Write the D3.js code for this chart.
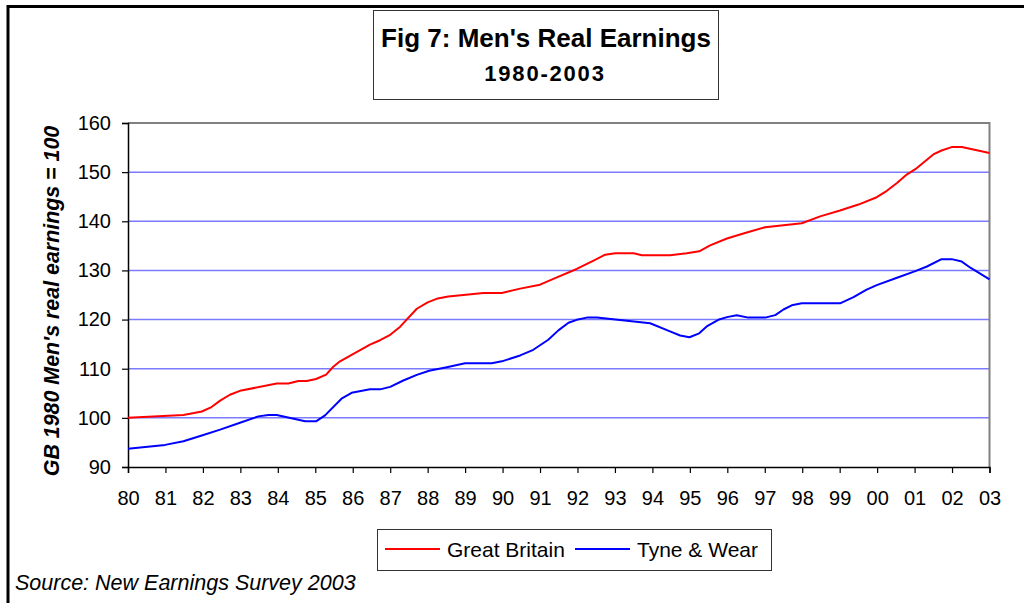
<!DOCTYPE html>
<html>
<head>
<meta charset="utf-8">
<script src="https://cdn.jsdelivr.net/npm/d3@7"></script>
<style>
  body { margin: 0; background: #fff; }
  svg { display: block; font-family: "Liberation Sans", Arial, sans-serif; }
</style>
</head>
<body>
<svg id="chart" width="1024" height="603"></svg>
<script>
// values: [year, index]
const greatBritain = [
  [1980.00, 100.0], [1981.48, 100.6], [1981.97, 101.3], [1982.23, 102.2], [1982.46, 103.5],
  [1982.72, 104.7], [1982.99, 105.5], [1983.97, 107.0], [1984.28, 107.0], [1984.55, 107.5],
  [1984.77, 107.5], [1985.02, 107.9], [1985.29, 108.8], [1985.48, 110.4], [1985.66, 111.5],
  [1986.46, 114.9], [1986.73, 115.8], [1987.00, 116.9], [1987.26, 118.5], [1987.71, 122.2],
  [1988.00, 123.5], [1988.27, 124.3], [1988.55, 124.7], [1989.49, 125.4], [1989.98, 125.4],
  [1990.47, 126.3], [1991.00, 127.1], [1991.45, 128.6], [1991.98, 130.3], [1992.43, 132.0],
  [1992.74, 133.2], [1993.01, 133.5], [1993.50, 133.5], [1993.72, 133.1], [1994.47, 133.1],
  [1994.92, 133.5], [1995.25, 133.9], [1995.54, 135.1], [1995.99, 136.5], [1996.43, 137.5],
  [1997.01, 138.8], [1997.99, 139.6], [1998.48, 141.0], [1999.01, 142.2], [1999.50, 143.4],
  [1999.99, 144.9], [2000.26, 146.2], [2000.53, 147.8], [2000.79, 149.5], [2001.02, 150.6],
  [2001.50, 153.6], [2001.72, 154.4], [2001.99, 155.1], [2002.26, 155.1], [2003.00, 153.9]
];
const tyneWear = [
  [1980.00, 93.7], [1980.99, 94.5], [1981.48, 95.25], [1981.97, 96.4], [1982.46, 97.6],
  [1982.99, 99.0], [1983.48, 100.3], [1983.75, 100.6], [1983.97, 100.6], [1984.73, 99.3],
  [1985.02, 99.3], [1985.26, 100.5], [1985.70, 103.9], [1985.97, 105.1], [1986.46, 105.8],
  [1986.73, 105.8], [1987.00, 106.3], [1987.35, 107.6], [1987.71, 108.75], [1988.04, 109.6],
  [1988.51, 110.3], [1989.00, 111.1], [1989.71, 111.1], [1989.98, 111.5], [1990.47, 112.7],
  [1990.82, 113.85], [1991.22, 115.9], [1991.49, 117.8], [1991.76, 119.35], [1991.98, 119.95],
  [1992.25, 120.4], [1992.52, 120.4], [1993.01, 120.0], [1993.94, 119.25], [1994.47, 117.6],
  [1994.74, 116.75], [1994.99, 116.4], [1995.25, 117.2], [1995.45, 118.6], [1995.76, 119.95],
  [1995.99, 120.5], [1996.25, 120.9], [1996.56, 120.4], [1997.01, 120.4], [1997.28, 120.9],
  [1997.50, 122.05], [1997.72, 122.9], [1997.99, 123.3], [1999.01, 123.3], [1999.37, 124.55],
  [1999.72, 126.1], [1999.99, 127.0], [2000.53, 128.5], [2001.02, 129.85], [2001.33, 130.8],
  [2001.72, 132.3], [2001.99, 132.3], [2002.26, 131.8], [2002.49, 130.55], [2003.00, 128.2]
];
const xTicks = d3.range(1980, 2004);
const yTicks = [90, 100, 110, 120, 130, 140, 150, 160];
const seriesNames = ["Great Britain", "Tyne & Wear"];
const seriesColors = ["#ff0000", "#0000ff"];

const svg = d3.select("#chart");
const plot = { left: 128, right: 989.5, top: 123, bottom: 467 };

const x = d3.scaleLinear().domain([1980, 2003]).range([plot.left, plot.right]);
const y = d3.scaleLinear().domain([90, 160]).range([plot.bottom, plot.top]);

// outer frame (only top and left edges are visible)
svg.append("path")
    .attr("d", "M8,1000 V6.5 H1030")
    .attr("fill", "none")
    .attr("stroke", "#000")
    .attr("stroke-width", 3);

// title box
svg.append("rect")
    .attr("x", 373.5).attr("y", 10.5)
    .attr("width", 345).attr("height", 89)
    .attr("fill", "#fff")
    .attr("stroke", "#333")
    .attr("stroke-width", 1);

svg.append("text")
    .attr("x", 546).attr("y", 47)
    .attr("text-anchor", "middle")
    .style("font-size", "26px").style("font-weight", "bold")
    .text("Fig 7: Men's Real Earnings");

svg.append("text")
    .attr("x", 545).attr("y", 81)
    .attr("text-anchor", "middle")
    .style("font-size", "22px").style("font-weight", "bold")
    .style("letter-spacing", "1.8px")
    .text("1980-2003");

// gridlines
svg.append("g")
    .selectAll("line")
    .data(yTicks.filter(d => d > 90 && d < 160))
    .enter().append("line")
    .attr("x1", plot.left).attr("x2", plot.right)
    .attr("y1", d => y(d)).attr("y2", d => y(d))
    .attr("stroke", "#7b7bff")
    .attr("stroke-width", 1.5);

// plot border top/right
svg.append("path")
    .attr("d", `M${plot.left},${plot.top} H${plot.right} V${plot.bottom}`)
    .attr("fill", "none")
    .attr("stroke", "#808080")
    .attr("stroke-width", 2);

// axes
const yAxis = d3.axisLeft(y)
    .tickValues(yTicks)
    .tickSize(6)
    .tickPadding(11);
const yAxisG = svg.append("g")
    .attr("transform", `translate(${plot.left},0)`)
    .call(yAxis);

const xAxis = d3.axisBottom(x)
    .tickValues(xTicks)
    .tickSize(6)
    .tickPadding(18)
    .tickFormat(d => String(d).slice(2));
const xAxisG = svg.append("g")
    .attr("transform", `translate(0,${plot.bottom})`)
    .call(xAxis);

[yAxisG, xAxisG].forEach(g => {
  g.select(".domain").attr("stroke", "#000").attr("stroke-width", 1.5);
  g.selectAll(".tick line").attr("stroke", "#000").attr("stroke-width", 1.2);
  g.selectAll(".tick text")
      .attr("fill", "#000")
      .style("font-family", "\"Liberation Sans\", Arial, sans-serif")
      .style("font-size", "20px");
});
xAxisG.selectAll(".tick text").attr("dy", "0.71em");

// y axis title
svg.append("text")
    .attr("transform", "translate(59,301) rotate(-90)")
    .attr("text-anchor", "middle")
    .style("font-size", "21.4px")
    .style("font-weight", "bold")
    .style("font-style", "italic")
    .text("GB 1980 Men's real earnings = 100");

// series lines
const line = d3.line()
    .x(d => x(d[0]))
    .y(d => y(d[1]));

[greatBritain, tyneWear].forEach((data, i) => {
  svg.append("path")
      .datum(data)
      .attr("fill", "none")
      .attr("stroke", seriesColors[i])
      .attr("stroke-width", 2)
      .attr("stroke-linejoin", "round")
      .attr("d", line);
});

// legend
svg.append("rect")
    .attr("x", 377.5).attr("y", 529.5)
    .attr("width", 394).attr("height", 41)
    .attr("fill", "#fff")
    .attr("stroke", "#333")
    .attr("stroke-width", 1);

const legendX = [385, 575];
seriesNames.forEach((name, i) => {
  const g = svg.append("g").attr("transform", `translate(${legendX[i]},549)`);
  g.append("line")
      .attr("x1", 0).attr("x2", 55)
      .attr("stroke", seriesColors[i])
      .attr("stroke-width", 2);
  g.append("text")
      .attr("x", 62).attr("y", 8)
      .style("font-size", "21px")
      .text(name);
});

// source note
svg.append("text")
    .attr("x", 15).attr("y", 590)
    .style("font-size", "21.5px")
    .style("font-style", "italic")
    .text("Source: New Earnings Survey 2003");
</script>
</body>
</html>
